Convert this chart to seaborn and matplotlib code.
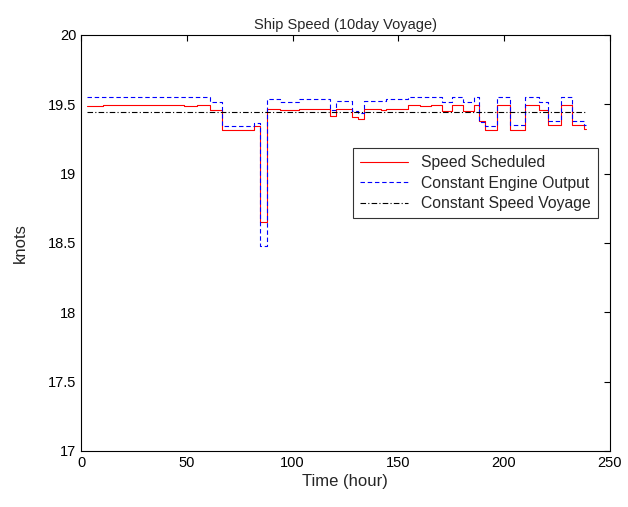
import numpy as np
import pandas as pd
import matplotlib
matplotlib.use("Agg")
import matplotlib.pyplot as plt
from matplotlib.ticker import FuncFormatter
import seaborn as sns

# step start times (hour) for each speed segment; last entry is the voyage end
hours = [2.7, 10.2, 48.7, 54.9, 60.8, 66.8, 81.8, 84.8, 88.0, 94.1, 103.1,
         117.5, 120.5, 128.2, 131.1, 134.0, 141.8, 144.3, 154.5, 160.1, 165.3,
         170.6, 175.5, 180.8, 185.8, 188.2, 190.8, 196.9, 202.8, 209.8, 216.7,
         221.0, 226.7, 232.1, 237.9, 238.7]

speed_scheduled = [19.486, 19.495, 19.486, 19.495, 19.457, 19.317, 19.344, 18.650,
                   19.465, 19.460, 19.468, 19.416, 19.466, 19.411, 19.394, 19.466,
                   19.457, 19.466, 19.493, 19.486, 19.498, 19.454, 19.498, 19.454,
                   19.498, 19.378, 19.317, 19.493, 19.317, 19.493, 19.459, 19.349,
                   19.493, 19.349, 19.325]

engine_output = [19.555, 19.555, 19.555, 19.555, 19.517, 19.345, 19.368, 18.481,
                 19.536, 19.519, 19.536, 19.456, 19.526, 19.454, 19.440, 19.526,
                 19.526, 19.536, 19.555, 19.555, 19.555, 19.519, 19.555, 19.519,
                 19.551, 19.370, 19.345, 19.553, 19.349, 19.553, 19.519, 19.377,
                 19.553, 19.377, 19.352]

constant_speed = 19.443


def as_steps(values):
    # repeat the last value so the final step reaches the end time
    return pd.DataFrame({"hour": hours, "knots": list(values) + [values[-1]]})


sns.set_style("white")
plt.rcParams["font.family"] = ["Liberation Sans", "DejaVu Sans"]

fig = plt.figure(figsize=(6.28, 5.07), dpi=100)
ax = fig.add_axes([0.129, 0.1105, 0.842, 0.8205])

sns.lineplot(data=as_steps(speed_scheduled), x="hour", y="knots", ax=ax,
             drawstyle="steps-post", color="#ff0000", linewidth=0.8,
             label="Speed Scheduled")
sns.lineplot(data=as_steps(engine_output), x="hour", y="knots", ax=ax,
             drawstyle="steps-post", color="#0000ff", linewidth=0.8,
             linestyle=(0, (4, 2.5)), label="Constant Engine Output")
sns.lineplot(data=as_steps([constant_speed] * len(speed_scheduled)), x="hour",
             y="knots", ax=ax, color="black", linewidth=0.8,
             linestyle=(0, (5, 2, 1, 2)), label="Constant Speed Voyage")

ax.set_xlim(0, 250)
ax.set_ylim(17, 20)
ax.set_xticks(np.arange(0, 251, 50))
ax.set_yticks(np.arange(17, 20.01, 0.5))
ax.yaxis.set_major_formatter(FuncFormatter(lambda v, p: f"{v:g}"))
ax.tick_params(direction="in", length=4, width=0.8, top=True, right=True,
               labelsize=10.5, colors="black")
for s in ax.spines.values():
    s.set_color("black")
    s.set_linewidth(0.8)

ax.set_title("Ship Speed (10day Voyage)", fontsize=10.5, pad=4)
ax.set_xlabel("Time (hour)", fontsize=12, labelpad=3)
ax.set_ylabel("knots", fontsize=12, labelpad=14)

leg = ax.legend(loc="upper right", bbox_to_anchor=(0.977, 0.728), fontsize=11.3,
                frameon=True, fancybox=False, edgecolor="black",
                borderpad=0.45, handlelength=3.1, labelspacing=0.35,
                borderaxespad=0)
leg.get_frame().set_linewidth(0.8)

fig.savefig("out.png", dpi=100)
